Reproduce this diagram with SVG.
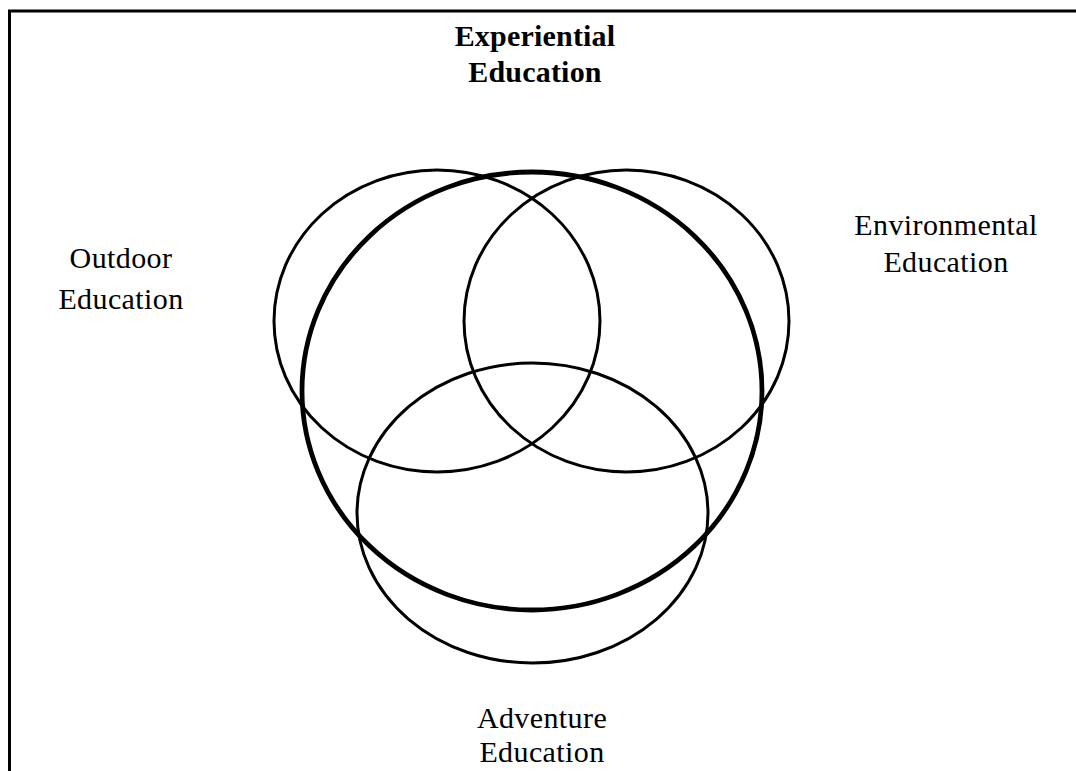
<svg xmlns="http://www.w3.org/2000/svg" width="1076" height="771" viewBox="0 0 1076 771">
<style>
.lbl{font-family:"Liberation Serif","Times New Roman",serif;font-size:30px;letter-spacing:0.4px;fill:#000;text-anchor:middle}
.b{font-weight:bold;letter-spacing:0.2px}
.thin{fill:none;stroke:#000;stroke-width:3}
.thick{fill:none;stroke:#000;stroke-width:4.8}
</style>
<rect width="1076" height="771" fill="#fff"/>
<g id="frame" stroke="#000" stroke-width="3">
<line x1="8" y1="11" x2="1076" y2="11"/>
<line x1="9.5" y1="10" x2="9.5" y2="771"/>
</g>
<g id="outdoor">
<ellipse class="thin" cx="437" cy="321" rx="163" ry="151"/>
<text class="lbl" x="121" y="268">Outdoor</text>
<text class="lbl" x="121" y="309">Education</text>
</g>
<g id="environmental">
<ellipse class="thin" cx="626.5" cy="321" rx="162.5" ry="151"/>
<text class="lbl" x="946" y="235">Environmental</text>
<text class="lbl" x="946" y="272">Education</text>
</g>
<g id="adventure">
<ellipse class="thin" cx="532.5" cy="513" rx="175.5" ry="150"/>
<text class="lbl" x="542" y="728">Adventure</text>
<text class="lbl" x="542" y="762">Education</text>
</g>
<g id="experiential">
<ellipse class="thick" cx="532" cy="391" rx="230" ry="219"/>
<text class="lbl b" x="535" y="46">Experiential</text>
<text class="lbl b" x="535" y="82">Education</text>
</g>
<g id="connectors"/>
</svg>
